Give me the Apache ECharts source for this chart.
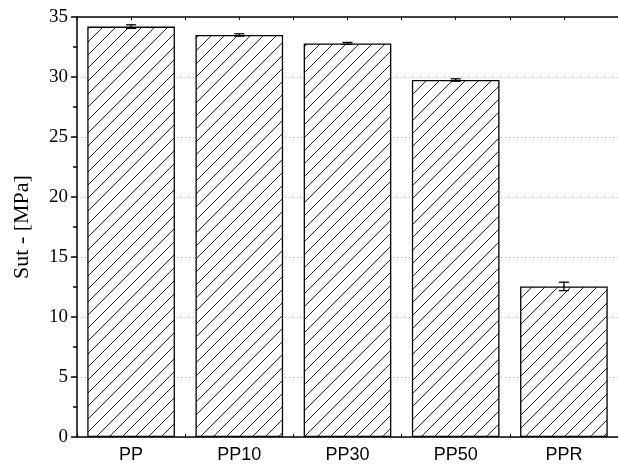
<!DOCTYPE html>
<html>
<head>
<meta charset="utf-8">
<script src="https://cdn.jsdelivr.net/npm/echarts@6/dist/echarts.min.js"></script>
<style>html,body{margin:0;padding:0;background:#fff;}#c{width:618px;height:466px;}</style>
</head>
<body>
<div id="c"></div>
<script>
const categories = ['PP', 'PP10', 'PP30', 'PP50', 'PPR'];
const values = [34.2, 33.5, 32.8, 29.75, 12.55];
const errors = [0.15, 0.1, 0.08, 0.1, 0.35];
const yTicks = [0, 5, 10, 15, 20, 25, 30, 35];

function hatch() {
  const s = 13;
  const c = document.createElement('canvas');
  c.width = s; c.height = s;
  const g = c.getContext('2d');
  g.fillStyle = '#fff';
  g.fillRect(0, 0, s, s);
  g.strokeStyle = '#222';
  g.lineWidth = 1;
  g.beginPath();
  g.moveTo(-1, s + 1); g.lineTo(s + 1, -1);
  g.moveTo(-1, 1); g.lineTo(1, -1);
  g.moveTo(s - 1, s + 1); g.lineTo(s + 1, s - 1);
  g.stroke();
  return c;
}

const chart = echarts.init(document.getElementById('c'), null, {renderer: 'canvas'});
const errData = categories.map((c, i) => [i, values[i] - errors[i], values[i] + errors[i]]);

chart.setOption({
  animation: false,
  grid: {left: 77, top: 17, bottom: 29, width: 546, containLabel: false},
  xAxis: [{
    type: 'category',
    data: categories,
    axisLine: {lineStyle: {color: '#000', width: 1.5}},
    axisTick: {show: true, inside: true, length: 3, lineStyle: {color: '#000'}},
    axisLabel: {color: '#000', fontFamily: 'Liberation Sans', fontSize: 18, margin: 9}
  }, {
    type: 'value',
    position: 'top',
    min: 0, max: 10, interval: 1,
    axisLine: {show: true, lineStyle: {color: '#000', width: 1.5}},
    axisTick: {show: true, inside: true, length: 3, lineStyle: {color: '#000'}},
    axisLabel: {show: false},
    splitLine: {show: false}
  }],
  yAxis: {
    type: 'value',
    min: 0, max: 35, interval: 5,
    name: 'Sut - [MPa]',
    nameLocation: 'middle',
    nameGap: 44,
    nameTextStyle: {fontFamily: 'Liberation Serif', fontSize: 22, color: '#000'},
    axisLine: {show: true, lineStyle: {color: '#000', width: 1.5}},
    axisTick: {show: true, length: 6, lineStyle: {color: '#000', width: 1.5}},
    minorTick: {show: true, splitNumber: 2, length: 4, lineStyle: {color: '#000', width: 1.5}},
    axisLabel: {color: '#000', fontFamily: 'Liberation Serif', fontSize: 19, margin: 9,
      formatter: v => yTicks.includes(v) ? String(v) : ''},
    splitLine: {show: true, lineStyle: {color: '#aaa', type: [1, 3], width: 1}}
  },
  series: [{
    type: 'bar',
    data: values,
    barWidth: '81%',
    itemStyle: {color: {image: hatch(), repeat: 'repeat'}, borderColor: '#000', borderWidth: 1.3}
  }, {
    type: 'custom',
    data: errData,
    z: 10,
    renderItem: function (params, api) {
      const x = api.coord([api.value(0), api.value(1)])[0];
      const lo = api.coord([api.value(0), api.value(1)])[1];
      const hi = api.coord([api.value(0), api.value(2)])[1];
      const w = 5;
      const st = {stroke: '#000', lineWidth: 1.3};
      return {type: 'group', children: [
        {type: 'line', shape: {x1: x, y1: lo, x2: x, y2: hi}, style: st},
        {type: 'line', shape: {x1: x - w, y1: lo, x2: x + w, y2: lo}, style: st},
        {type: 'line', shape: {x1: x - w, y1: hi, x2: x + w, y2: hi}, style: st}
      ]};
    }
  }]
});
</script>
</body>
</html>
